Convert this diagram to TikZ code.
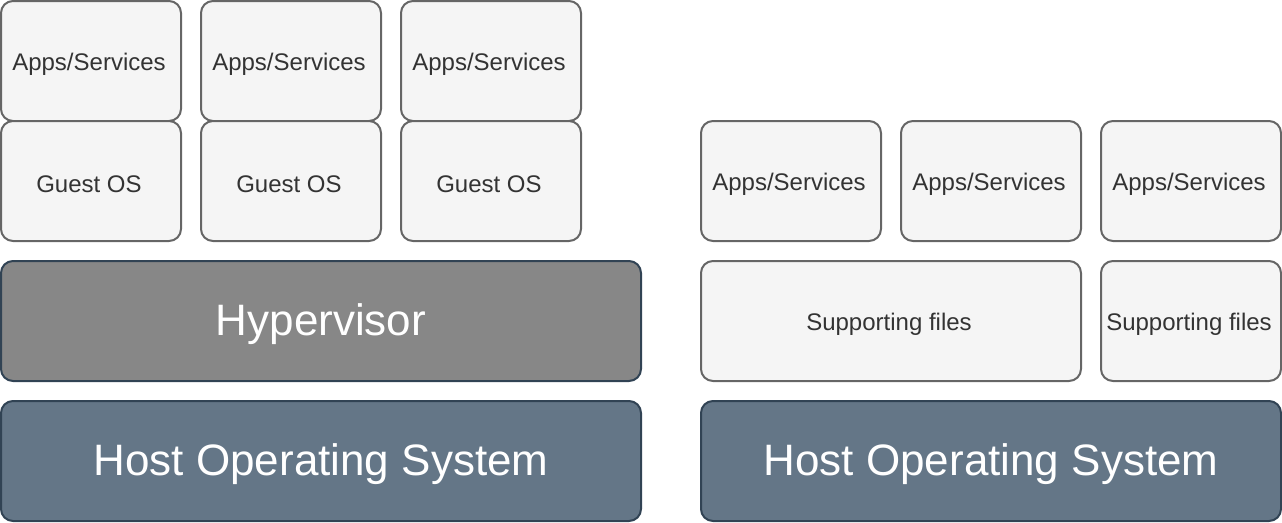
\documentclass[tikz,border=0pt]{standalone}
\usepackage{fontspec}
\setmainfont{Liberation Sans}
\definecolor{lightfill}{HTML}{F5F5F5}
\definecolor{lightline}{HTML}{666666}
\definecolor{txt}{HTML}{333333}
\definecolor{hypfill}{HTML}{878787}
\definecolor{hostfill}{HTML}{647687}
\definecolor{darkline}{HTML}{314354}
\newcommand{\smtxt}[1]{\hspace*{-2pt}\raisebox{-3pt}[\height][\depth]{#1}\hspace*{2pt}}
\newcommand{\bgtxt}[1]{\raisebox{-3pt}[\height][\depth]{#1}}
\tikzset{
  box/.style={draw, rounded corners=12pt, line width=2pt, inner sep=0pt, anchor=center},
  lightbox/.style={box, fill=lightfill, draw=lightline, text=txt, font=\fontsize{24pt}{28pt}\selectfont},
  darkbox/.style={box, draw=darkline, text=white, font=\fontsize{44pt}{50pt}\selectfont},
}
\begin{document}
\begin{tikzpicture}[x=1pt,y=-1pt]
\useasboundingbox (0,0) rectangle (1282,522);
% left stack
\node[lightbox, minimum width=180pt, minimum height=120pt] (a1) at (91,61) {\smtxt{Apps/Services}};
\node[lightbox, minimum width=180pt, minimum height=120pt] (a2) at (291,61) {\smtxt{Apps/Services}};
\node[lightbox, minimum width=180pt, minimum height=120pt] (a3) at (491,61) {\smtxt{Apps/Services}};
\node[lightbox, minimum width=180pt, minimum height=120pt] (g1) at (91,181) {\smtxt{Guest OS}};
\node[lightbox, minimum width=180pt, minimum height=120pt] (g2) at (291,181) {\smtxt{Guest OS}};
\node[lightbox, minimum width=180pt, minimum height=120pt] (g3) at (491,181) {\smtxt{Guest OS}};
\node[darkbox, fill=hypfill, minimum width=640pt, minimum height=120pt] (hyp) at (321,321) {\bgtxt{Hypervisor}};
\node[darkbox, fill=hostfill, minimum width=640pt, minimum height=120pt] (hostL) at (321,461) {\bgtxt{Host Operating System}};
% right stack
\node[lightbox, minimum width=180pt, minimum height=120pt] (b1) at (791,181) {\smtxt{Apps/Services}};
\node[lightbox, minimum width=180pt, minimum height=120pt] (b2) at (991,181) {\smtxt{Apps/Services}};
\node[lightbox, minimum width=180pt, minimum height=120pt] (b3) at (1191,181) {\smtxt{Apps/Services}};
\node[lightbox, minimum width=380pt, minimum height=120pt] (s1) at (891,321) {\smtxt{Supporting files}};
\node[lightbox, minimum width=180pt, minimum height=120pt] (s2) at (1191,321) {\smtxt{Supporting files}};
\node[darkbox, fill=hostfill, minimum width=580pt, minimum height=120pt] (hostR) at (991,461) {\bgtxt{Host Operating System}};
\end{tikzpicture}
\end{document}
